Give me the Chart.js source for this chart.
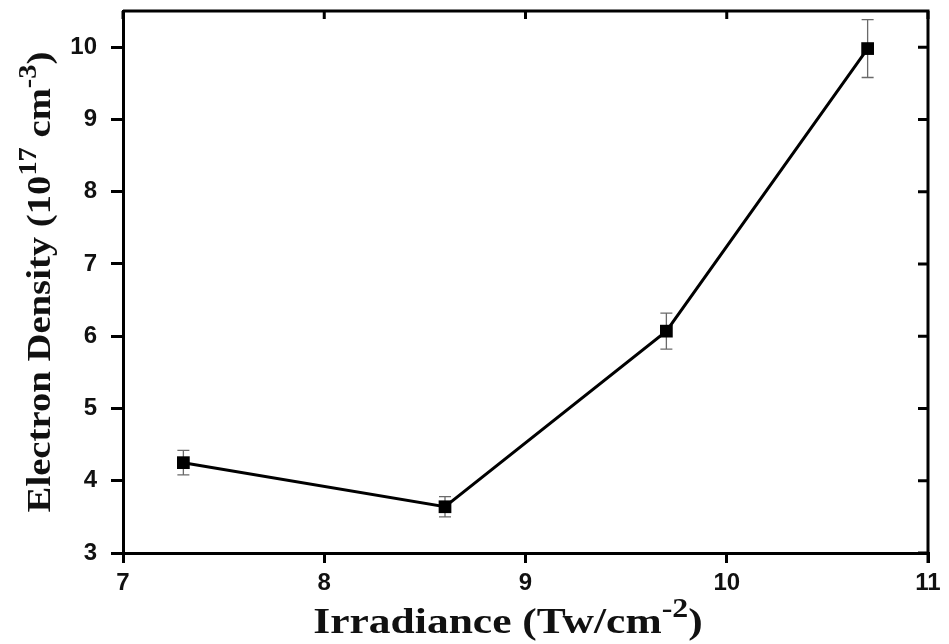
<!DOCTYPE html>
<html>
<head>
<meta charset="utf-8">
<script src="https://cdn.jsdelivr.net/npm/chart.js@4.4.1/dist/chart.umd.min.js"></script>
<style>
  html, body { margin: 0; padding: 0; background: #fff; }
  #wrap { width: 949px; height: 644px; }
</style>
</head>
<body>
<div id="wrap"><canvas id="chart" width="949" height="644"></canvas></div>
<script>
// data
const irradiance = [7.3, 8.6, 9.7, 10.7];
const density = [4.25, 3.64, 6.07, 9.98];
const densityErr = [0.17, 0.14, 0.25, 0.4];
const xTicks = [7, 8, 9, 10, 11];
const yTicks = [3, 4, 5, 6, 7, 8, 9, 10];

const points = irradiance.map((x, i) => ({ x: x, y: density[i] }));

// frame, mirror ticks, error bars, axis titles
const extras = {
  id: "extras",
  beforeDatasetsDraw(chart) {
    const { ctx, scales } = chart;
    const xs = scales.x, ys = scales.y;
    ctx.save();
    ctx.strokeStyle = "#6a6a6a";
    ctx.lineWidth = 1.3;
    irradiance.forEach((x, i) => {
      const px = xs.getPixelForValue(x);
      const top = ys.getPixelForValue(density[i] + densityErr[i]);
      const bot = ys.getPixelForValue(density[i] - densityErr[i]);
      ctx.beginPath();
      ctx.moveTo(px, top); ctx.lineTo(px, bot);
      ctx.moveTo(px - 6, top); ctx.lineTo(px + 6, top);
      ctx.moveTo(px - 6, bot); ctx.lineTo(px + 6, bot);
      ctx.stroke();
    });
    ctx.restore();
  },
  afterDraw(chart) {
    const { ctx, chartArea: a, scales } = chart;
    const xs = scales.x, ys = scales.y;
    ctx.save();
    ctx.strokeStyle = "#000";
    ctx.lineWidth = 3;
    ctx.beginPath();
    ctx.moveTo(a.left, a.top); ctx.lineTo(a.right, a.top); ctx.lineTo(a.right, a.bottom);
    ctx.stroke();
    // inward ticks on top and right
    ctx.beginPath();
    xTicks.forEach(v => {
      const px = xs.getPixelForValue(v);
      ctx.moveTo(px, a.top); ctx.lineTo(px, a.top + 8);
    });
    yTicks.forEach(v => {
      const py = ys.getPixelForValue(v);
      ctx.moveTo(a.right, py); ctx.lineTo(a.right - 10, py);
    });
    ctx.moveTo(a.right, a.bottom); ctx.lineTo(a.right, a.bottom + 10);
    ctx.stroke();

    // axis titles with superscripts
    ctx.fillStyle = "#111";
    ctx.textBaseline = "alphabetic";
    const big = "bold 30px 'Liberation Serif', 'Times New Roman', serif";
    const sup = "bold 22px 'Liberation Serif', 'Times New Roman', serif";
    function drawParts(parts, cx, cy) {
      let w = 0;
      parts.forEach(p => { ctx.font = p[1] ? sup : big; w += ctx.measureText(p[0]).width; });
      let x = cx - w / 2;
      parts.forEach(p => {
        ctx.font = p[1] ? sup : big;
        ctx.fillText(p[0], x, cy - (p[1] ? 13 : 0));
        x += ctx.measureText(p[0]).width;
      });
    }
    ctx.save();
    ctx.translate(508, 633);
    ctx.scale(1.45, 1.2);
    drawParts([["Irradiance (Tw/cm", false], ["-2", true], [")", false]], 0, 0);
    ctx.restore();

    ctx.save();
    ctx.translate(50, 282);
    ctx.rotate(-Math.PI / 2);
    ctx.scale(1.29, 1.1);
    drawParts([["Electron Density (10", false], ["17", true], [" cm", false], ["-3", true], [")", false]], 0, 0);
    ctx.restore();
    ctx.restore();
  }
};

const ctx = document.getElementById("chart");
new Chart(ctx, {
  type: "scatter",
  data: {
    datasets: [
      {
        data: points,
        showLine: true,
        borderColor: "#000",
        borderWidth: 3,
        backgroundColor: "#000",
        pointStyle: "rect",
        pointRadius: 9,
        pointBorderWidth: 0,
        tension: 0,
      },
    ],
  },
  options: {
    responsive: false,
    animation: false,
    layout: { padding: { top: 11, right: 21, left: 0, bottom: 0 } },
    plugins: { legend: { display: false }, tooltip: { enabled: false } },
    scales: {
      x: {
        type: "linear",
        min: 7,
        max: 11,
        afterFit: (s) => { s.height = 91; s.paddingLeft = 0; s.paddingRight = 0; },
        afterBuildTicks: (s) => { s.ticks = xTicks.map(v => ({ value: v })); },
        border: { display: true, color: "#000", width: 3 },
        grid: { drawOnChartArea: false, drawTicks: true, tickLength: 10, color: "#000", lineWidth: 3 },
        ticks: {
          color: "#111",
          font: { family: "'Liberation Sans', Arial, sans-serif", size: 24, weight: "bold" },
          maxRotation: 0,
          autoSkip: false,
          padding: 6,
        },
      },
      y: {
        type: "linear",
        min: 3,
        max: 10.5,
        afterFit: (s) => { s.width = 123; s.paddingTop = 0; s.paddingBottom = 0; },
        afterBuildTicks: (s) => { s.ticks = yTicks.map(v => ({ value: v })); },
        border: { display: true, color: "#000", width: 3 },
        grid: { drawOnChartArea: false, drawTicks: true, tickLength: 12, color: "#000", lineWidth: 3 },
        ticks: {
          color: "#111",
          font: { family: "'Liberation Sans', Arial, sans-serif", size: 24, weight: "bold" },
          padding: 14,
        },
      },
    },
  },
  plugins: [extras],
});
</script>
</body>
</html>
